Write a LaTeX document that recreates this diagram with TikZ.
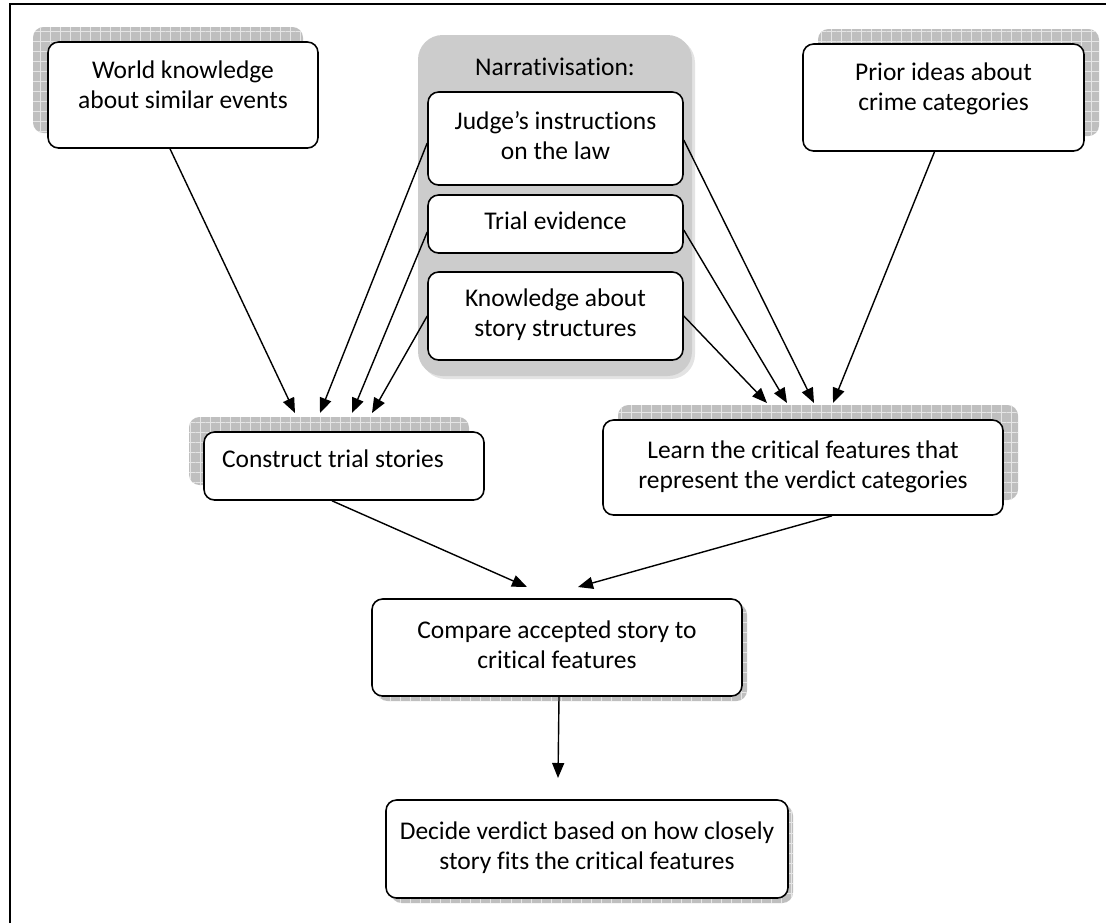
\documentclass[tikz,border=0pt]{standalone}
\usepackage{fontspec}
\setmainfont{Carlito}[Ligatures=NoCommon]
\usetikzlibrary{arrows.meta,positioning,patterns.meta}

\begin{document}
\begin{tikzpicture}[
    box/.style={draw, line width=0.9pt, rounded corners=6pt, fill=white, inner sep=0pt, align=center, text depth=0.12cm, font=\fontsize{14.5}{17}\selectfont},
    boxshadow/.style={rounded corners=6pt, inner sep=0pt, fill=gray!50, postaction={pattern={Hatch[distance=5.7pt, line width=0.4pt]}, pattern color=gray!20}},
    narrbox/.style={rounded corners=14pt, inner sep=0pt, fill=gray!40, minimum width=5.48cm, minimum height=6.82cm},
    textlabel/.style={font=\fontsize{14.5}{17}\selectfont},
    link/.style={-{Triangle[length=0.3cm, width=0.24cm]}, line width=0.8pt}
]
\useasboundingbox (0,0) rectangle (22.12,-18.46);
\draw[line width=1.2pt] (0.2,-18.46) -- (0.2,-0.08) -- (22.12,-0.08);

\node[boxshadow, minimum width=5.4cm, minimum height=2.12cm] (worldsh) at (3.36,-1.60) {};
\node[box, text depth=0.42cm, minimum width=5.4cm, minimum height=2.12cm] (world) at (3.66,-1.90) {World knowledge\\about similar events};

\node[boxshadow, minimum width=5.62cm, minimum height=2.14cm] (priorsh) at (19.17,-1.65) {};
\node[box, text depth=0.42cm, minimum width=5.62cm, minimum height=2.14cm] (prior) at (18.87,-1.95) {Prior ideas about\\crime categories};

\node[narrbox, fill=gray!22] (narrsh) at (11.16,-4.17) {};
\node[narrbox] (narr) at (11.10,-4.11) {};
\node[textlabel] (narrtitle) at (11.10,-1.34) {Narrativisation:};
\node[box, minimum width=5.1cm, minimum height=1.86cm] (judge) at (11.11,-2.77) {Judge’s instructions\\on the law};
\node[box, minimum width=5.1cm, minimum height=1.16cm] (trial) at (11.11,-4.48) {Trial evidence};
\node[box, minimum width=5.1cm, minimum height=1.76cm] (know) at (11.11,-6.32) {Knowledge about\\story structures};

\node[boxshadow, minimum width=5.6cm, minimum height=1.36cm] (constructsh) at (6.58,-9.02) {};
\node[box, minimum width=5.6cm, minimum height=1.36cm] (construct) at (6.88,-9.32) {};
\node[textlabel] (constructtext) at (6.66,-9.18) {Construct trial stories};

\node[boxshadow, minimum width=8.0cm, minimum height=1.9cm] (learnsh) at (16.36,-9.05) {};
\node[box, minimum width=8.0cm, minimum height=1.9cm] (learn) at (16.06,-9.35) {Learn the critical features that\\represent the verdict categories};

\node[boxshadow, minimum width=7.4cm, minimum height=1.94cm] (comparesh) at (11.24,-13.05) {};
\node[box, minimum width=7.4cm, minimum height=1.94cm] (compare) at (11.14,-12.95) {Compare accepted story to\\critical features};

\node[boxshadow, minimum width=8.04cm, minimum height=1.96cm] (decidesh) at (11.84,-17.08) {};
\node[box, minimum width=8.04cm, minimum height=1.96cm] (decide) at (11.74,-16.98) {Decide verdict based on how closely\\story fits the critical features};

\foreach \x [count=\i] in {5.90, 6.40, 7.04, 7.44} { \coordinate (cin\i) at (\x,-8.26); }
\foreach \x [count=\i] in {15.34, 15.74, 16.28, 16.66} { \coordinate (lin\i) at (\x,-8.06); }
\coordinate (kin1) at (10.54,-11.74);
\coordinate (kin2) at (11.56,-11.74);
\coordinate (din) at (11.16,-15.56);

\draw[link] ([xshift=-0.26cm]world.south) -- (cin1);
\draw[link] ([yshift=-0.09cm]judge.west) -- (cin2);
\draw[link] ([yshift=-0.16cm]trial.west) -- (cin3);
\draw[link] (know.west) -- (cin4);
\draw[link] (know.east) -- (lin1);
\draw[link] ([yshift=-0.12cm]trial.east) -- (lin2);
\draw[link] ([yshift=-0.03cm]judge.east) -- (lin3);
\draw[link] ([xshift=-0.18cm]prior.south) -- (lin4);
\draw[link] ([xshift=-0.24cm]construct.south) -- (kin1);
\draw[link] ([xshift=0.58cm]learn.south) -- (kin2);
\draw[link] ([xshift=0.04cm]compare.south) -- (din);

\end{tikzpicture}
\end{document}
